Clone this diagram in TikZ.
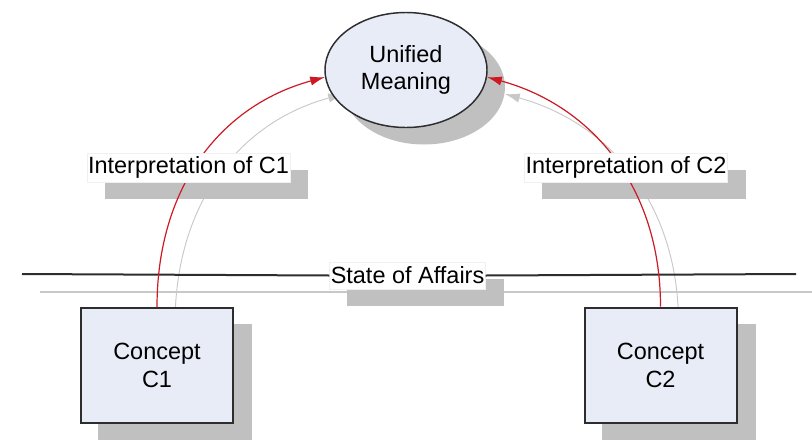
\documentclass[tikz,border=0pt]{standalone}
\usepackage{fontspec}
\setmainfont{Liberation Sans}
\usepackage{xcolor}
\usepackage{tikz}
\usetikzlibrary{arrows.meta,shapes.geometric,backgrounds}

\definecolor{boxfill}{RGB}{232,236,247}
\definecolor{edgegray}{RGB}{45,45,45}
\definecolor{shadowgray}{RGB}{192,192,192}
\definecolor{faintgray}{RGB}{200,200,200}
\definecolor{arrowred}{RGB}{205,25,35}

\tikzset{
  conceptbox/.style={draw=edgegray, line width=1.5pt, fill=boxfill, minimum width=114pt, minimum height=86.25pt, inner sep=0pt, align=center, font=\fontsize{17.6}{21}\selectfont},
  meaningnode/.style={ellipse, draw=edgegray, line width=1.1pt, fill=boxfill, minimum width=121.5pt, minimum height=86.25pt, inner sep=0pt, align=center, font=\fontsize{17.6}{20.3}\selectfont},
  interp/.style={fill=white, draw=gray!12, line width=0.4pt, inner xsep=0.8pt, inner ysep=0pt, minimum height=21.75pt, font=\fontsize{17.6}{21}\selectfont},
  redarrow/.style={draw=arrowred, line width=0.9pt, -{Latex[length=11pt,width=7pt]}},
  ghostarrow/.style={draw=faintgray, line width=0.7pt, -{Latex[length=11pt,width=7pt]}}
}

\begin{document}
\begin{tikzpicture}[x=0.75pt,y=0.75pt,yscale=-1,xscale=1]
\useasboundingbox (0,0) rectangle (812,439);

% shapes
\node[meaningnode] (meaning) at (406,70) {Unified\\Meaning};
\node[conceptbox] (c1) at (157,365.5) {Concept\\C1};
\node[conceptbox] (c2) at (660.5,365) {Concept\\C2};

% state of affairs
\coordinate (soaL) at (22,274);
\coordinate (soaR) at (796,274);
\node[interp, minimum width=116pt, minimum height=20.25pt] (soa) at (407.5,275.5) {State of Affairs};
\draw[edgegray, line width=1.5pt] (soaL) -- (soa.west);
\draw[edgegray, line width=1.5pt] (soa.east) -- (soaR);

% interpretations
\draw[redarrow] (c1.north) .. controls +(0,-118) and +(-106,29) .. (meaning.185);
\draw[redarrow] (c2.north) .. controls +(0,-118) and +(106,29) .. (meaning.355);

\node[interp, minimum width=152pt] (lbl1) at (188.5,167.5) {Interpretation of C1};
\node[interp, minimum width=152pt] (lbl2) at (626,167.5) {Interpretation of C2};

% shadows
\begin{scope}[on background layer]
\draw[faintgray, line width=1pt] ([shift={(18,18)}]soaL) -- ([shift={(18,18)}]soaR);
\draw[ghostarrow] ([shift={(18,17)}]c1.north) .. controls +(0,-118) and +(-106,29) .. ([shift={(18,17)}]meaning.185);
\draw[ghostarrow] ([shift={(18,17)}]c2.north) .. controls +(0,-118) and +(106,29) .. ([shift={(18,17)}]meaning.355);
\fill[shadowgray] ([shift={(18,17)}]meaning.center) ellipse [x radius=81, y radius=57.5];
\fill[shadowgray] ([shift={(18,17)}]c1.north west) rectangle ([shift={(18,17)}]c1.south east);
\fill[shadowgray] ([shift={(18,17)}]c2.north west) rectangle ([shift={(18,17)}]c2.south east);
\fill[shadowgray] ([shift={(18,17)}]lbl1.north west) rectangle ([shift={(18,17)}]lbl1.south east);
\fill[shadowgray] ([shift={(18,17)}]lbl2.north west) rectangle ([shift={(18,17)}]lbl2.south east);
\fill[shadowgray] ([shift={(18,17)}]soa.north west) rectangle ([shift={(18,17)}]soa.south east);
\end{scope}

\end{tikzpicture}
\end{document}
